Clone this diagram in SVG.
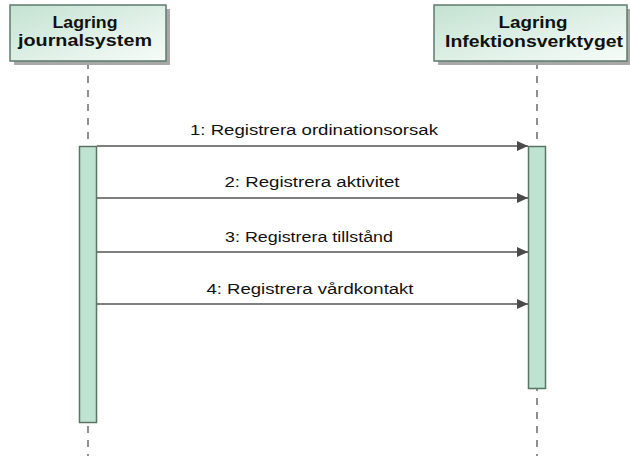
<svg xmlns="http://www.w3.org/2000/svg" width="630" height="456" viewBox="0 0 630 456">
  <defs>
    <linearGradient id="headFill" x1="0" y1="0" x2="1" y2="1">
      <stop offset="0" stop-color="#c3e2d1"/>
      <stop offset="1" stop-color="#f7fcf9"/>
    </linearGradient>
    <marker id="arrow" viewBox="0 0 11 10" refX="11" refY="5" markerWidth="11" markerHeight="10" markerUnits="userSpaceOnUse" orient="auto">
      <path d="M0,0 L11,5 L0,10 Z" fill="#4a4a4a"/>
    </marker>
  </defs>
  <style>
    .shadow { fill: #a8a8a8; }
    .head { fill: url(#headFill); stroke: #5e7a6c; stroke-width: 1.5; }
    .title { font-family: "Liberation Sans", Arial, sans-serif; font-weight: bold; font-size: 16.5px; fill: #111; text-anchor: middle; }
    .life { stroke: #555; stroke-width: 1.3; stroke-dasharray: 7 7; fill: none; }
    .act { fill: #bfe3d1; stroke: #5a7566; stroke-width: 1.5; }
    .msg { stroke: #555; stroke-width: 1.5; fill: none; marker-end: url(#arrow); }
    .label { font-family: "Liberation Sans", Arial, sans-serif; font-size: 14px; fill: #111; text-anchor: middle; }
  </style>

  <rect width="630" height="456" fill="#ffffff"/>

  <!-- lifelines -->
  <g id="lifelines">
    <line class="life" x1="88" y1="62" x2="88" y2="456"/>
    <line class="life" x1="537" y1="62" x2="537" y2="456"/>
  </g>

  <g id="journalsystem">
    <rect class="shadow" x="14" y="9" width="156" height="56"/>
    <rect class="head" x="10" y="5" width="156" height="56"/>
    <text class="title" x="85" y="28" textLength="65" lengthAdjust="spacingAndGlyphs">Lagring</text>
    <text class="title" x="85" y="46" textLength="134" lengthAdjust="spacingAndGlyphs">journalsystem</text>
    <rect class="act" x="79.5" y="146.5" width="17" height="276"/>
  </g>

  <g id="infektionsverktyget">
    <rect class="shadow" x="438" y="9" width="193" height="56"/>
    <rect class="head" x="434" y="5" width="193" height="56"/>
    <text class="title" x="533" y="28" textLength="69" lengthAdjust="spacingAndGlyphs">Lagring</text>
    <text class="title" x="534" y="47" textLength="178" lengthAdjust="spacingAndGlyphs">Infektionsverktyget</text>
    <rect class="act" x="528.5" y="146.5" width="17" height="242"/>
  </g>

  <!-- messages -->
  <g id="connectors">
    <line class="msg" x1="97" y1="146" x2="528" y2="146"/>
    <text class="label" x="314" y="135" textLength="248" lengthAdjust="spacingAndGlyphs">1: Registrera ordinationsorsak</text>

    <line class="msg" x1="97" y1="198" x2="528" y2="198"/>
    <text class="label" x="312" y="187" textLength="175" lengthAdjust="spacingAndGlyphs">2: Registrera aktivitet</text>

    <line class="msg" x1="97" y1="252" x2="528" y2="252"/>
    <text class="label" x="309" y="242" textLength="168" lengthAdjust="spacingAndGlyphs">3: Registrera tillstånd</text>

    <line class="msg" x1="97" y1="304" x2="528" y2="304"/>
    <text class="label" x="310" y="294" textLength="207" lengthAdjust="spacingAndGlyphs">4: Registrera vårdkontakt</text>
  </g>
</svg>
